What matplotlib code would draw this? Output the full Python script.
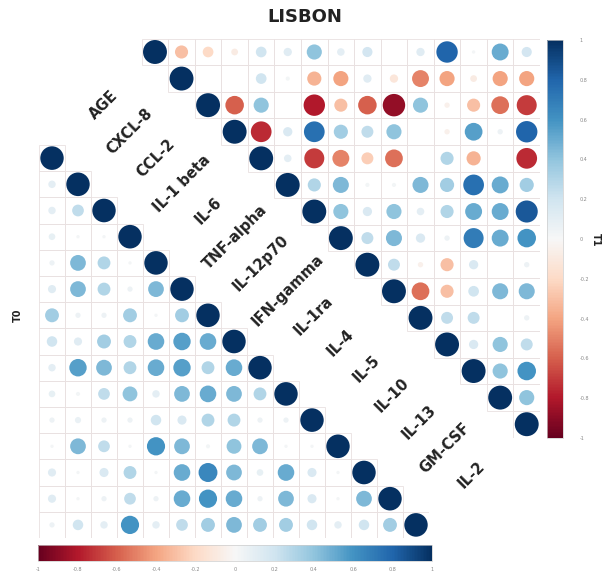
import numpy as np
import matplotlib
matplotlib.use("Agg")
import matplotlib.pyplot as plt
from matplotlib.patches import Ellipse, Rectangle
from matplotlib.cm import ScalarMappable
from matplotlib.colors import Normalize

labels = ["AGE", "CXCL-8", "CCL-2", "IL-1 beta", "IL-6", "TNF-alpha", "IL-12p70",
          "IFN-gamma", "IL-1ra", "IL-4", "IL-5", "IL-10", "IL-13", "GM-CSF", "IL-2"]

# T1 (upper triangle): row i holds correlations with columns i+1 .. n-1
t1_rows = [
    [-0.3, -0.2, -0.08, 0.2, 0.12, 0.4, 0.1, 0.18, 0.0, 0.12, 0.8, 0.02, 0.5, 0.18],
    [0.0, 0.0, 0.2, 0.03, -0.35, -0.4, 0.12, -0.12, -0.5, -0.4, -0.08, -0.4, -0.4],
    [-0.6, 0.4, 0.0, -0.8, -0.3, -0.6, -0.88, 0.4, -0.05, -0.3, -0.55, -0.7],
    [-0.75, 0.15, 0.75, 0.35, 0.25, 0.4, 0.0, -0.05, 0.55, 0.05, 0.8],
    [0.1, -0.7, -0.5, -0.25, -0.55, 0.0, 0.3, -0.35, 0.0, -0.75],
    [0.3, 0.45, 0.03, 0.03, 0.45, 0.35, 0.75, 0.5, 0.35],
    [0.4, 0.15, 0.4, 0.1, 0.3, 0.5, 0.5, 0.85],
    [0.25, 0.45, 0.15, 0.05, 0.7, 0.5, 0.6],
    [0.25, -0.05, -0.3, 0.15, 0.0, 0.05],
    [-0.55, -0.3, 0.2, 0.45, 0.45],
    [0.25, 0.25, 0.0, 0.05],
    [0.15, 0.4, 0.25],
    [0.4, 0.6],
    [0.4],
]

# T0 (lower triangle): row r holds correlations of variable r+1 with columns 0 .. r
t0_rows = [
    [0.1],
    [0.1, 0.25],
    [0.08, 0.02, 0.02],
    [0.05, 0.45, 0.3, 0.02],
    [0.12, 0.45, 0.3, 0.05, 0.45],
    [0.35, 0.05, 0.05, 0.35, 0.02, 0.35],
    [0.2, 0.12, 0.35, 0.3, 0.5, 0.55, 0.5],
    [0.1, 0.55, 0.45, 0.3, 0.5, 0.55, 0.3, 0.5],
    [0.08, 0.03, 0.25, 0.4, 0.1, 0.45, 0.5, 0.45, 0.3],
    [0.05, 0.07, 0.05, 0.05, 0.2, 0.15, 0.3, 0.3, 0.05, 0.05],
    [0.02, 0.45, 0.25, 0.02, 0.6, 0.45, 0.03, 0.4, 0.45, 0.02, 0.02],
    [0.12, 0.02, 0.15, 0.3, 0.02, 0.5, 0.65, 0.45, 0.08, 0.5, 0.15, 0.02],
    [0.12, 0.02, 0.05, 0.25, 0.05, 0.5, 0.6, 0.5, 0.05, 0.45, 0.15, 0.02, 0.45],
    [0.05, 0.2, 0.1, 0.6, 0.1, 0.25, 0.35, 0.45, 0.35, 0.35, 0.2, 0.1, 0.2, 0.35],
]

n = len(labels)
m1 = np.eye(n)
for i, vals in enumerate(t1_rows):
    m1[i, i + 1:] = vals
m0 = np.eye(n)
for r, vals in enumerate(t0_rows):
    m0[r + 1, :r + 1] = vals

W, H = 606, 572
fig = plt.figure(figsize=(W / 100, H / 100), dpi=100)
cmap = plt.get_cmap("RdBu")
norm = Normalize(-1, 1)
gridcol = "#e9e1e1"


def px_axes(x0, y0, x1, y1):
    return fig.add_axes([x0 / W, 1 - y1 / H, (x1 - x0) / W, (y1 - y0) / H])


def draw_tri(ax, m, upper):
    ax.set_xlim(-0.5, n - 0.5)
    ax.set_ylim(n - 0.5, -0.5)
    ax.axis("off")
    for i in range(n):
        for j in range(n):
            if (upper and j < i) or (not upper and j > i):
                continue
            ax.add_patch(Rectangle((j - 0.5, i - 0.5), 1, 1, fill=False,
                                   ec=gridcol, lw=0.6))
            v = m[i, j]
            d = 0.9 * np.sqrt(abs(v))
            ax.add_patch(Ellipse((j, i), d, d, color=cmap(norm(v)), lw=0))


ax_up = px_axes(141.7, 38.7, 540.0, 437.5)
ax_lo = px_axes(39, 145, 429, 538)
draw_tri(ax_up, m1, True)
draw_tri(ax_lo, m0, False)

# variable names between the two diagonals
for i, lab in enumerate(labels):
    p = (ax_up.transData.transform((i, i)) + ax_lo.transData.transform((i, i))) / 2
    fx, fy = fig.transFigure.inverted().transform(p)
    fig.text(fx, fy, lab, rotation=45, rotation_mode="anchor", ha="center",
             va="center", fontsize=10.5, fontweight="bold", color="#222222")

sm = ScalarMappable(norm=norm, cmap=cmap)
ticks = np.round(np.linspace(-1, 1, 11), 1)
ticklabels = [f"{t:g}" for t in ticks]

cax_r = px_axes(547, 40, 563, 438)
cb_r = fig.colorbar(sm, cax=cax_r)
cb_r.set_ticks(ticks, labels=ticklabels)
cax_r.tick_params(length=0, pad=12, labelsize=3.5, labelcolor="#888888")
cb_r.outline.set_edgecolor("#cccccc")
cb_r.outline.set_linewidth(0.5)

cax_b = px_axes(38, 545, 432, 561)
cb_b = fig.colorbar(sm, cax=cax_b, orientation="horizontal")
cb_b.set_ticks(ticks, labels=ticklabels)
cax_b.tick_params(length=0, pad=4, labelsize=3.5, labelcolor="#888888")
cb_b.outline.set_edgecolor("#cccccc")
cb_b.outline.set_linewidth(0.5)

fig.text(305 / W, 1 - 17 / H, "LISBON", ha="center", va="center",
         fontsize=13, fontweight="bold", color="#222222")
fig.text(18 / W, 1 - 315 / H, "T0", rotation=90, ha="center", va="center",
         fontsize=7, fontweight="bold", color="#222222")
fig.text(596 / W, 1 - 240 / H, "T1", rotation=270, ha="center", va="center",
         fontsize=7, fontweight="bold", color="#222222")

fig.savefig("out.png", dpi=100)
